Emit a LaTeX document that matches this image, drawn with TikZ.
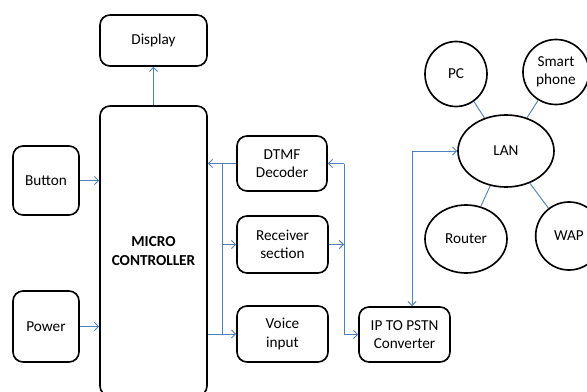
\documentclass[tikz,border=0pt]{standalone}
\usepackage{fontspec}
\setmainfont{Carlito}
\usetikzlibrary{arrows.meta,shapes.geometric}
\definecolor{linkblue}{RGB}{79,129,189}

\begin{document}
\begin{tikzpicture}[x=0.03cm,y=-0.03cm,font=\fontsize{13}{15.5}\selectfont,
    block/.style={draw,line width=1.4pt,rounded corners=0.3cm,align=center,inner sep=0pt},
    bubble/.style={draw,line width=1.4pt,ellipse,align=center,inner sep=0pt},
    link/.style={draw=linkblue,line width=0.8pt},
    >={Straight Barb[length=3.5pt,width=7pt]}]
  \useasboundingbox (0,0) rectangle (587,392);

  % left column
  \node[block,minimum width=3.21cm,minimum height=1.53cm] (display) at (153.5,40.5) {Display};
  \node[block,minimum width=3.21cm,minimum height=8.7cm,font=\fontsize{13}{15.5}\selectfont\bfseries] (mc) at (153.5,251) {MICRO\\CONTROLLER};
  \node[block,minimum width=1.98cm,minimum height=2.07cm] (button) at (46,180.5) {Button};
  \node[block,minimum width=1.98cm,minimum height=2.13cm] (power) at (46,326.5) {Power};

  % middle column
  \node[block,minimum width=2.7cm,minimum height=1.65cm] (dtmf) at (282,163.5) {DTMF\\Decoder};
  \node[block,minimum width=2.73cm,minimum height=1.71cm] (recv) at (282.5,244.5) {Receiver\\section};
  \node[block,minimum width=2.73cm,minimum height=1.68cm] (voice) at (282.5,334) {Voice\\input};
  \node[block,minimum width=2.73cm,minimum height=1.65cm] (ip) at (404.5,334.5) {IP TO PSTN\\Converter};

  % network
  \node[bubble,minimum width=2.88cm,minimum height=2.16cm] (lan) at (506,151) {LAN};
  \node[bubble,minimum width=1.86cm,minimum height=1.95cm] (pc) at (456,74) {PC};
  \node[bubble,minimum width=1.98cm,minimum height=1.95cm] (phone) at (556,72) {Smart\\phone};
  \node[bubble,minimum width=2.46cm,minimum height=2.04cm] (router) at (466,239) {Router};
  \node[bubble,minimum width=2.0cm,minimum height=2.04cm] (wap) at (569,236) {WAP};

  \coordinate (busl) at (222,0);
  \coordinate (busr) at (344,0);
  \coordinate (tap) at (412,0);

  \draw[link,->] (mc) -- (display);
  \draw[link,->] (button) -- (button -| mc.west);
  \draw[link,->] (power) -- (power -| mc.west);

  \draw[link,->] (dtmf) -- (dtmf -| mc.east);
  \draw[link,->] (voice -| mc.east) -- (voice);
  \draw[link] (dtmf -| busl) -- (voice -| busl); % left bus
  \draw[link,->] (recv -| busl) -- (recv);

  \draw[link,->] (dtmf -| busr) -- (dtmf);
  \draw[link,->] (recv) -- (recv -| busr);
  \draw[link,->] (dtmf -| busr) |- (ip); % right bus
  \draw[link,<->] (ip.north -| tap) |- (lan);

  \foreach \n in {pc,phone,router,wap}{
      \draw[link] (lan) -- (\n);
  }
\end{tikzpicture}
\end{document}
